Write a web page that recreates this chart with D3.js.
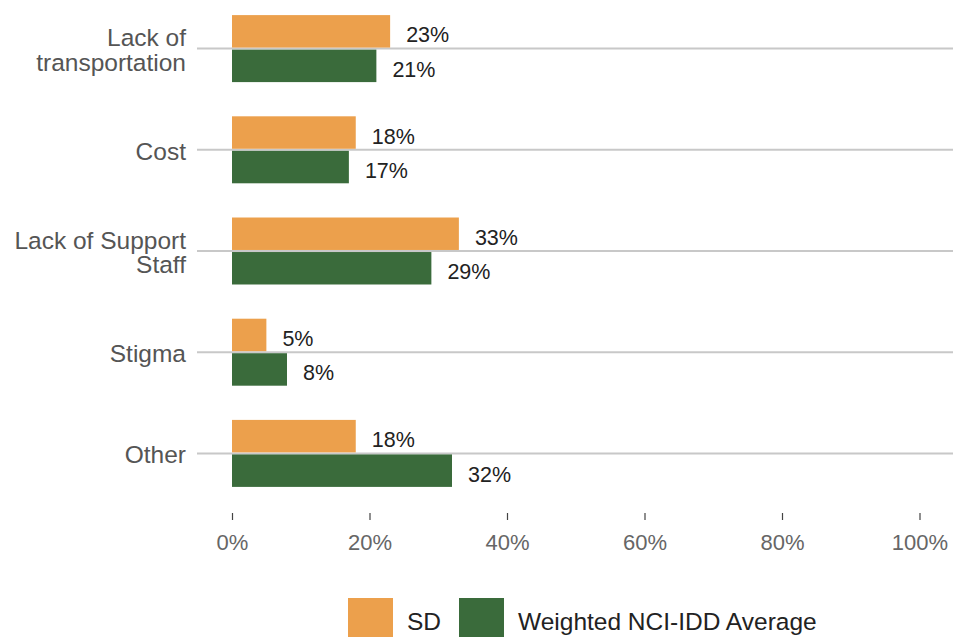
<!DOCTYPE html>
<html>
<head>
<meta charset="utf-8">
<script src="https://cdn.jsdelivr.net/npm/d3@7"></script>
<style>
  html, body { margin: 0; padding: 0; background: #fff; }
  svg { display: block; font-family: "Liberation Sans", Arial, sans-serif; }
</style>
</head>
<body>
<svg id="chart" width="953" height="637"></svg>
<script>
// Barriers, share of respondents
const categories = ["Lack of\ntransportation", "Cost", "Lack of Support\nStaff", "Stigma", "Other"];
const seriesNames = ["SD", "Weighted NCI-IDD Average"];
const sdValues = [0.23, 0.18, 0.33, 0.05, 0.18];
const nciValues = [0.21, 0.17, 0.29, 0.08, 0.32];
const xTicks = [0, 0.2, 0.4, 0.6, 0.8, 1.0];
const seriesColors = ["#eca04c", "#3a6b3b"];

const rows = categories.map((c, i) => ({
  category: c,
  values: [
    { series: seriesNames[0], value: sdValues[i] },
    { series: seriesNames[1], value: nciValues[i] }
  ]
}));

const svg = d3.select("#chart");

const x = d3.scaleLinear().domain([0, 1]).range([232, 919.5]);

const y = d3.scaleBand()
  .domain(categories)
  .range([-2, 504])
  .paddingInner(0.338)
  .paddingOuter(0.169);

const ySub = d3.scaleBand()
  .domain(seriesNames)
  .range([0, y.bandwidth()])
  .paddingInner(0.06);

const color = d3.scaleOrdinal().domain(seriesNames).range(seriesColors);
const pct = d3.format(".0%");

// Horizontal gridlines through each category centre
svg.append("g")
  .selectAll("line")
  .data(categories)
  .join("line")
  .attr("x1", 197)
  .attr("x2", 953)
  .attr("y1", d => y(d) + y.bandwidth() / 2)
  .attr("y2", d => y(d) + y.bandwidth() / 2)
  .attr("stroke", "#c8c8c8")
  .attr("stroke-width", 2);

// Bars
const groups = svg.append("g")
  .selectAll("g")
  .data(rows)
  .join("g")
  .attr("transform", d => `translate(0,${y(d.category)})`);

groups.selectAll("rect")
  .data(d => d.values)
  .join("rect")
  .attr("x", x(0))
  .attr("y", d => ySub(d.series))
  .attr("width", d => x(d.value) - x(0))
  .attr("height", ySub.bandwidth())
  .attr("fill", d => color(d.series));

// Value labels
groups.selectAll("text")
  .data(d => d.values)
  .join("text")
  .attr("x", d => x(d.value) + 16)
  .attr("y", d => ySub(d.series) + ySub.bandwidth() / 2 + 11)
  .attr("font-size", 21.5)
  .attr("fill", "#222")
  .text(d => pct(d.value));

// Category labels (right aligned, may wrap onto two lines)
const catLabels = svg.append("g")
  .selectAll("text")
  .data(categories)
  .join("text")
  .attr("text-anchor", "end")
  .attr("font-size", 24.5)
  .attr("fill", "#555");

catLabels.each(function (d) {
  const lines = d.split("\n");
  const cy = y(d) + y.bandwidth() / 2;
  const lh = 24.5;
  d3.select(this).selectAll("tspan")
    .data(lines)
    .join("tspan")
    .attr("x", 186)
    .attr("y", (l, k) => cy + 10 + (k - (lines.length - 1) / 2) * lh)
    .text(l => l);
});

// Bottom axis: ticks and labels, no domain line
const xAxis = d3.axisBottom(x)
  .tickValues(xTicks)
  .tickFormat(pct)
  .tickSize(7)
  .tickPadding(14);

const axisG = svg.append("g")
  .attr("transform", "translate(0,513)")
  .call(xAxis);
axisG.select(".domain").remove();
axisG.selectAll(".tick line").attr("stroke", "#444").attr("stroke-width", 1.2);
axisG.selectAll(".tick text")
  .attr("font-size", 22)
  .attr("font-family", "Liberation Sans, Arial, sans-serif")
  .attr("fill", "#666")
  .attr("dy", "0.71em");

// Legend
const legendX = [348, 459];
const legend = svg.append("g")
  .selectAll("g")
  .data(seriesNames)
  .join("g")
  .attr("transform", (d, i) => `translate(${legendX[i]},598)`);

legend.append("rect")
  .attr("width", 45)
  .attr("height", 45)
  .attr("fill", d => color(d));

legend.append("text")
  .attr("x", 59)
  .attr("y", 32)
  .attr("font-size", 24.5)
  .attr("fill", "#222")
  .text(d => d);
</script>
</body>
</html>
